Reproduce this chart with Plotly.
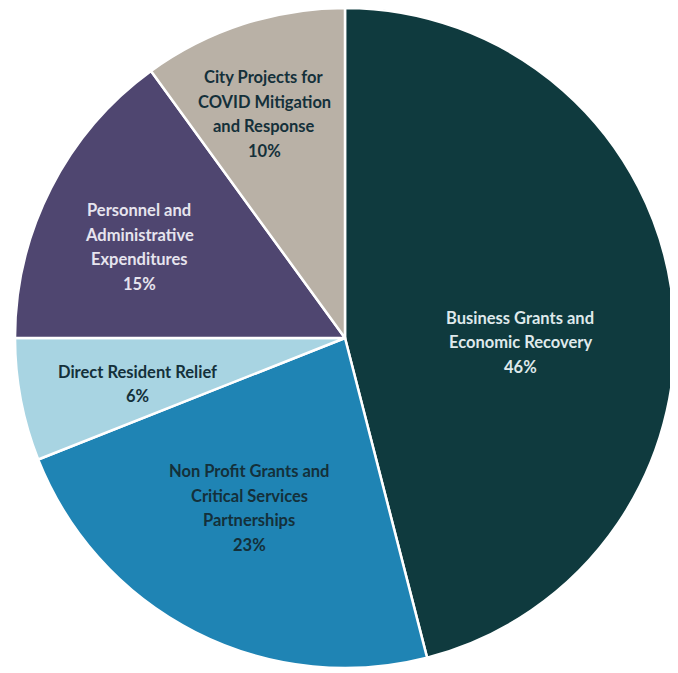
import plotly.graph_objects as go

labels = [
    "Business Grants and Economic Recovery",
    "Non Profit Grants and Critical Services Partnerships",
    "Direct Resident Relief",
    "Personnel and Administrative Expenditures",
    "City Projects for COVID Mitigation and Response",
]
label_lines = [
    ["Business Grants and", "Economic Recovery"],
    ["Non Profit Grants and", "Critical Services", "Partnerships"],
    ["Direct Resident Relief"],
    ["Personnel and", "Administrative", "Expenditures"],
    ["City Projects for", "COVID Mitigation", "and Response"],
]
values = [46, 23, 6, 15, 10]
percent_labels = ["46%", "23%", "6%", "15%", "10%"]

# styling
colors = ["#0f3a3e", "#1f84b4", "#a8d4e2", "#4f4670", "#b9b1a6"]
text_colors = ["#dfe9eb", "#14303a", "#14303a", "#e6e4ee", "#14303a"]
# label block centres in screen pixels (x, y) measured on the reference
label_centres = [(520, 342), (249, 508), (137, 384), (139, 247), (264, 114)]
LINE_GAP = 24.5
BODY_OFFSET = 8  # default page margin around the plot div
W, H = 678, 673

fig = go.Figure(
    go.Pie(
        labels=labels,
        values=values,
        textinfo="none",
        sort=False,
        direction="clockwise",
        rotation=0,
        marker=dict(colors=colors, line=dict(color="white", width=2.5)),
        domain=dict(x=[0.0103, 0.9838], y=[0.0193, 1.0]),
        hoverinfo="label+percent",
        showlegend=False,
    )
)

annotations = []
for lines, pct, col, (cx, cy) in zip(label_lines, percent_labels, text_colors, label_centres):
    all_lines = lines + [pct]
    n = len(all_lines)
    px = (cx - BODY_OFFSET) / W
    py = 1 - (cy - BODY_OFFSET) / H
    for i, t in enumerate(all_lines):
        annotations.append(
            dict(
                text="<b>%s</b>" % t,
                x=px,
                y=py,
                xref="paper",
                yref="paper",
                xanchor="center",
                yanchor="middle",
                yshift=((n - 1) / 2 - i) * LINE_GAP,
                showarrow=False,
                font=dict(family="Lato, Open Sans, sans-serif", size=16.5, color=col),
            )
        )

fig.update_layout(
    width=W,
    height=H,
    margin=dict(l=0, r=0, t=0, b=0),
    paper_bgcolor="white",
    annotations=annotations,
    font=dict(family="Lato, Open Sans, sans-serif"),
)
fig.write_html("out.html")
